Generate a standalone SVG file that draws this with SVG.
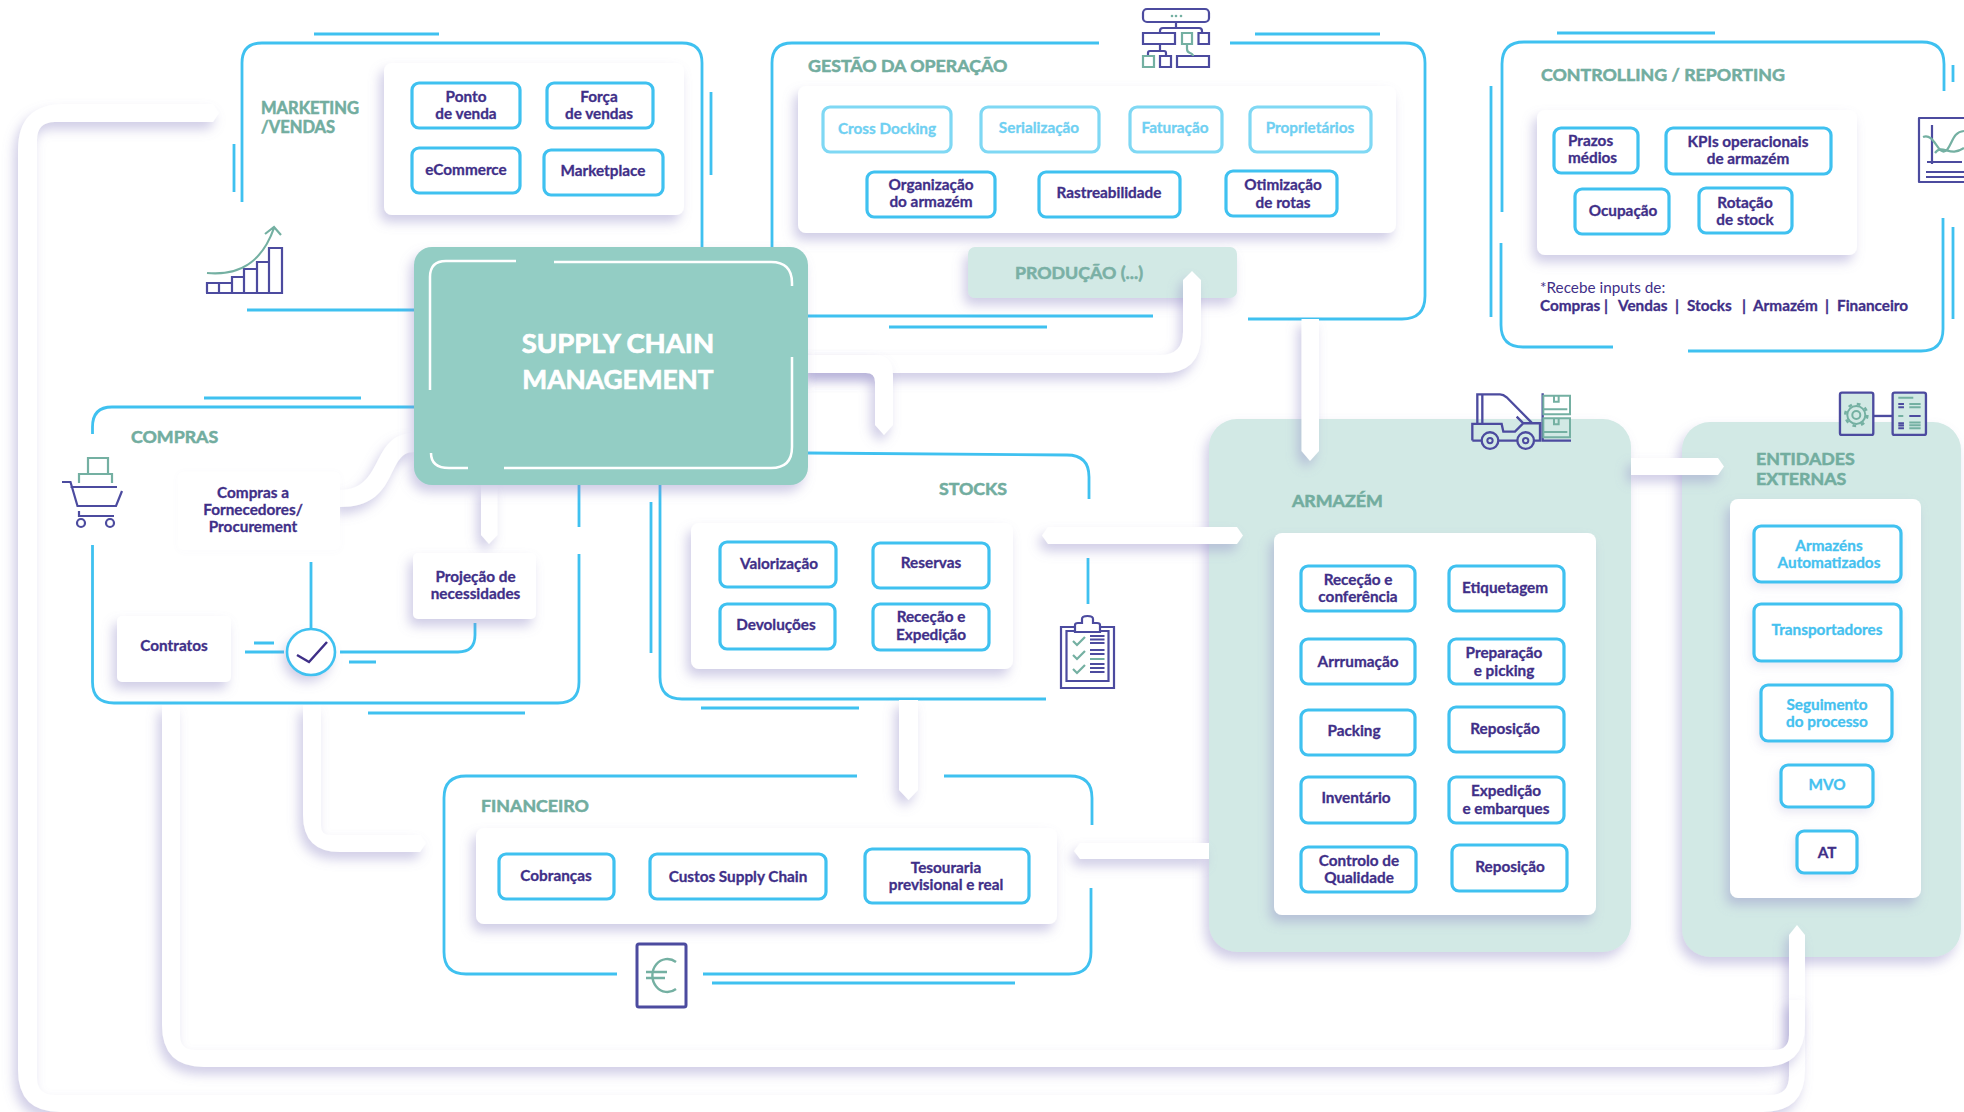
<svg xmlns="http://www.w3.org/2000/svg" width="1964" height="1112" viewBox="0 0 1964 1112">
<defs>
<filter id="sh" filterUnits="userSpaceOnUse" x="0" y="0" width="1964" height="1112"><feDropShadow dx="-4" dy="7" stdDeviation="6" flood-color="#8d88c4" flood-opacity=".42"/></filter>
<filter id="shs" filterUnits="userSpaceOnUse" x="0" y="0" width="1964" height="1112"><feDropShadow dx="-2" dy="4" stdDeviation="5" flood-color="#8d88c4" flood-opacity=".2"/></filter>
<filter id="shf" filterUnits="userSpaceOnUse" x="0" y="0" width="1964" height="1112"><feDropShadow dx="0" dy="1" stdDeviation="3" flood-color="#8d88c4" flood-opacity=".03"/></filter>
</defs>
<style>
text{font-family:"Lato","Liberation Sans",sans-serif;font-weight:700;font-size:15.300px;fill:#3f2f88;stroke:#3f2f88;stroke-width:.3;text-anchor:middle}
.h{font-size:17.800px;fill:#72ad9f;stroke:#72ad9f;stroke-width:.55;text-anchor:start}
.hs{font-size:16.500px}
.l{fill:#6fd0f2;stroke:#6fd0f2}
.b{fill:#45c1ef;stroke:#45c1ef}
.st{text-anchor:start}
.prod{font-size:17.800px;fill:#7ab0a5;stroke:#7ab0a5;stroke-width:.55}
.scm{font-size:27.500px;fill:#fff;stroke:#fff;stroke-width:.7}
.reg{font-weight:400;stroke:none}
.line{fill:none;stroke:#3fc1f0;stroke-width:2.800;stroke-linecap:butt}
.btn{fill:#fff;stroke:#3fc1f0;stroke-width:3.200}
.btnl{fill:#fff;stroke:#7fd8f4;stroke-width:3.200}
.card{fill:#fff;filter:url(#sh)}
.panel{fill:#d2e9e5;filter:url(#sh)}
.conn{fill:#fff;filter:url(#sh)}
.ic{fill:none;stroke:#4c4b9f;stroke-width:2.200}
.ig{fill:none;stroke:#74b0a2;stroke-width:2.200}
</style>
<rect width="1964" height="1112" fill="#fff"/>

<g id="marketing">
<path class="line" d="M242,202V63Q242,43 262,43H682Q702,43 702,63V247M314,34H439M234,144V192M711,92V175M247,310H414"/>
<rect class="card" x="384" y="63" width="300" height="152" rx="8"/>
<text class="h hs" x="261" y="114">MARKETING</text><text class="h hs" x="261" y="133">/VENDAS</text>
<rect class="btn" x="412" y="83" width="108" height="45" rx="7"/><text x="466" y="102">Ponto</text><text x="466" y="119">de venda</text>
<rect class="btn" x="547" y="83" width="106" height="45" rx="7"/><text x="599" y="102">Força</text><text x="599" y="119">de vendas</text>
<rect class="btn" x="412" y="148" width="108" height="45" rx="7"/><text x="466" y="175">eCommerce</text>
<rect class="btn" x="544" y="150" width="119" height="45" rx="7"/><text x="603" y="176">Marketplace</text>
<path class="ic" d="M207,293V283H232V293M219,283V293M232,293V277H244V293M244,293V269H257V293M257,293V262H269V293M269,293V248H282V293H206"/>
<path class="ig" d="M207,273C240,276 262,262 274,228M265,234L274,227L281,235"/>
</g>

<g id="gestao">
<path class="line" d="M1099,43H792Q772,43 772,63V247M1230,43H1405Q1425,43 1425,63V296Q1425,319 1402,319H1248M808,316H1153M1255,34H1380M889,327H1047"/>
<rect class="card" x="798" y="86" width="598" height="147" rx="8"/>
<text class="h" x="808" y="72">GESTÃO DA OPERAÇÃO</text>
<rect class="btnl" x="823" y="107" width="128" height="45" rx="7"/><text class="l" x="887" y="134">Cross Docking</text>
<rect class="btnl" x="981" y="107" width="118" height="45" rx="7"/><text class="l" x="1039" y="133">Serialização</text>
<rect class="btnl" x="1130" y="107" width="92" height="45" rx="7"/><text class="l" x="1175" y="133">Faturação</text>
<rect class="btnl" x="1250" y="107" width="121" height="45" rx="7"/><text class="l" x="1310" y="133">Proprietários</text>
<rect class="btn" x="867" y="172" width="128" height="45" rx="7"/><text x="931" y="190">Organização</text><text x="931" y="207">do armazém</text>
<rect class="btn" x="1039" y="172" width="141" height="45" rx="7"/><text x="1109" y="198">Rastreabilidade</text>
<rect class="btn" x="1226" y="171" width="111" height="45" rx="7"/><text x="1283" y="190">Otimização</text><text x="1283" y="208">de rotas</text>
<rect x="968" y="247" width="269" height="51" rx="7" fill="#d2e9e5" filter="url(#sh)"/>
<text class="prod" x="1079" y="279">PRODUÇÃO (...)</text>
<rect class="ic" x="1143" y="9" width="66" height="13" rx="4"/>
<circle cx="1172" cy="16" r="1.300" fill="#74b0a2"/><circle cx="1176" cy="16" r="1.300" fill="#74b0a2"/><circle cx="1181" cy="16" r="1.300" fill="#74b0a2"/>
<path class="ic" d="M1176,22V28M1160,33V31Q1160,28 1163,28H1199Q1202,28 1202,31V33M1143,33H1175V44H1143ZM1198.500,33H1209V44H1198.500ZM1160,44V51M1148,56V53Q1148,51 1150,51H1164Q1166,51 1166,53V56M1160,56H1171V67H1160ZM1177,56H1209V67H1177Z"/>
<path class="ig" d="M1182,33H1192V44H1182ZM1143,56H1154V67H1143ZM1187,44V49Q1187,52 1190,53Q1193,54 1193,56"/>
</g>

<g id="controlling">
<path class="line" d="M1502,212V64Q1502,42 1524,42H1922Q1944,42 1944,64V91M1501,243V325Q1501,347 1523,347H1613M1688,351H1921Q1943,351 1943,329V218M1557,33H1715M1491,86V317M1953,65V82M1953,227V319"/>
<rect class="card" x="1537" y="110" width="320" height="145" rx="8"/>
<text class="h" x="1541" y="81">CONTROLLING / REPORTING</text>
<rect class="btn" x="1554" y="128" width="84" height="45" rx="7"/><text class="st" x="1568" y="146">Prazos</text><text class="st" x="1568" y="163">médios</text>
<rect class="btn" x="1666" y="128" width="165" height="46" rx="7"/><text x="1748" y="147">KPIs operacionais</text><text x="1748" y="164">de armazém</text>
<rect class="btn" x="1575" y="189" width="94" height="45" rx="7"/><text x="1623" y="216">Ocupação</text>
<rect class="btn" x="1699" y="188" width="93" height="45" rx="7"/><text x="1745" y="208">Rotação</text><text x="1745" y="225">de stock</text>
<text class="st reg" x="1540" y="293">*Recebe inputs de:</text>
<text class="st" x="1540" y="311">Compras |</text><text class="st" x="1618" y="311">Vendas</text><text x="1677" y="311">|</text><text class="st" x="1687" y="311">Stocks</text><text x="1744" y="311">|</text><text class="st" x="1753" y="311">Armazém</text><text x="1827" y="311">|</text><text class="st" x="1837" y="311">Financeiro</text>
<path class="ic" d="M1964,118H1919V182H1964M1932,125V164M1927,162H1962M1926,172H1964M1926,177H1964" stroke-linejoin="round"/>
<path class="ig" d="M1923,137C1935,132 1938,158 1947,150C1953,142 1953,132 1964,131M1935,153C1942,143 1950,158 1964,148"/>
</g>

<g id="stocks">
<path class="line" d="M808,453L1067,455Q1089,455 1089,477V499M1088,558V604M660,485V677Q660,699 682,699H1046M651,502V653M701,708H859"/>
<rect class="card" x="691" y="523" width="322" height="146" rx="8"/>
<text class="h" x="939" y="495">STOCKS</text>
<rect class="btn" x="720" y="542" width="116" height="45" rx="7"/><text x="779" y="569">Valorização</text>
<rect class="btn" x="873" y="543" width="116" height="45" rx="7"/><text x="931" y="568">Reservas</text>
<rect class="btn" x="720" y="604" width="115" height="45" rx="7"/><text x="776" y="630">Devoluções</text>
<rect class="btn" x="873" y="604" width="116" height="46" rx="7"/><text x="931" y="622">Receção e</text><text x="931" y="640">Expedição</text>
<path class="ic" d="M1075,627H1061V688H1114V627H1100M1075,631H1066.500V681H1108.500V631H1100M1075,632V625Q1075,623 1078,623H1082V619Q1082,616 1087.500,616Q1093,616 1093,619V623H1097Q1100,623 1100,625V632ZM1090,636H1104.500M1090,639.500H1104.500M1090,643H1104.500M1090,650H1104.500M1090,654H1104.500M1090,664H1104.500M1090,668H1104.500M1090,672H1104.500"/>
<path class="ig" d="M1073,641L1077,645L1085,637M1073,655L1077,659L1085,651M1073,669L1077,673L1085,665M1090,659H1104.500"/>
</g>

<g id="financeiro">
<path class="line" d="M857,776H466Q444,776 444,798V952Q444,974 466,974H617M944,776H1070Q1092,776 1092,798V825M1091,888V952Q1091,974 1069,974H703M712,983H1015"/>
<rect class="card" x="476" y="828" width="581" height="96" rx="8"/>
<text class="h" x="481" y="812">FINANCEIRO</text>
<rect class="btn" x="499" y="854" width="115" height="45" rx="7"/><text x="556" y="881">Cobranças</text>
<rect class="btn" x="650" y="854" width="176" height="45" rx="7"/><text x="738" y="882">Custos Supply Chain</text>
<rect class="btn" x="865" y="849" width="164" height="54" rx="7"/><text x="946" y="873">Tesouraria</text><text x="946" y="890">previsional e real</text>
<rect x="637" y="944" width="49" height="63" rx="2" fill="#fff" stroke="#4c4b9f" stroke-width="3"/>
<path d="M676,962A15,16.500 0 1 0 676,989M646,972H667M646,978H665" fill="none" stroke="#74b0a2" stroke-width="2.400"/>
</g>

<g id="armazem">
<rect class="panel" x="1209" y="419" width="422" height="533" rx="28"/>
<rect class="card" x="1274" y="533" width="322" height="382" rx="8"/>
<text class="h" x="1292" y="507">ARMAZÉM</text>
<rect class="btn" x="1301" y="566" width="114" height="45" rx="7"/><text x="1358" y="585">Receção e</text><text x="1358" y="602">conferência</text>
<rect class="btn" x="1449" y="566" width="115" height="45" rx="7"/><text x="1505" y="593">Etiquetagem</text>
<rect class="btn" x="1301" y="639" width="114" height="45" rx="7"/><text x="1358" y="667">Arrrumação</text>
<rect class="btn" x="1449" y="639" width="115" height="45" rx="7"/><text x="1504" y="658">Preparação</text><text x="1504" y="676">e picking</text>
<rect class="btn" x="1301" y="710" width="114" height="45" rx="7"/><text x="1354" y="736">Packing</text>
<rect class="btn" x="1449" y="707" width="115" height="45" rx="7"/><text x="1505" y="734">Reposição</text>
<rect class="btn" x="1301" y="777" width="114" height="46" rx="7"/><text x="1356" y="803">Inventário</text>
<rect class="btn" x="1449" y="777" width="115" height="46" rx="7"/><text x="1506" y="796">Expedição</text><text x="1506" y="814">e embarques</text>
<rect class="btn" x="1301" y="847" width="115" height="45" rx="7"/><text x="1359" y="866">Controlo de</text><text x="1359" y="883">Qualidade</text>
<rect class="btn" x="1452" y="845" width="115" height="46" rx="7"/><text x="1510" y="872">Reposição</text>
<g transform="translate(1460 0) scale(.3333)">
<path d="M52,1272V1183H120Q130,1183 140,1192L215,1268M67,1183V1270M37,1322V1272H125L130,1295H165L190,1270H240V1322H225M65,1322H37M115,1322H172M170,1250L188,1268M248,1180V1322H333" fill="none" stroke="#4c4b9f" stroke-width="7"/>
<circle cx="90" cy="1322" r="25" fill="#d2e9e5" stroke="#4c4b9f" stroke-width="7"/><circle cx="90" cy="1322" r="8" fill="none" stroke="#4c4b9f" stroke-width="6"/>
<circle cx="197" cy="1322" r="25" fill="#d2e9e5" stroke="#4c4b9f" stroke-width="7"/><circle cx="197" cy="1322" r="8" fill="none" stroke="#4c4b9f" stroke-width="6"/>
<path d="M250,1187H330V1243H250ZM250,1255H330V1312H250ZM250,1228H322M250,1296H322M282,1190V1205H296V1190M282,1258V1273H296V1258" fill="none" stroke="#74b0a2" stroke-width="6"/>
</g>
</g>

<g id="entidades">
<rect class="panel" x="1682" y="422" width="279" height="535" rx="28"/>
<rect class="card" x="1730" y="499" width="191" height="399" rx="8"/>
<text class="h" x="1756" y="465">ENTIDADES</text><text class="h" x="1756" y="485">EXTERNAS</text>
<g filter="url(#shs)">
<rect class="btn" x="1754" y="526" width="147" height="56" rx="7"/>
<rect class="btn" x="1754" y="604" width="147" height="57" rx="7"/>
<rect class="btn" x="1761" y="685" width="131" height="56" rx="7"/>
<rect class="btn" x="1781" y="765" width="92" height="42" rx="7"/>
<rect class="btn" x="1797" y="831" width="60" height="42" rx="7"/>
</g>
<text class="b" x="1829" y="551">Armazéns</text><text class="b" x="1829" y="568">Automatizados</text>
<text class="b" x="1827" y="635">Transportadores</text>
<text class="b" x="1827" y="710">Seguimento</text><text class="b" x="1827" y="727">do processo</text>
<text class="b" x="1827" y="790">MVO</text>
<text x="1827" y="858">AT</text>
<g transform="translate(1460 0) scale(.3333)">
<rect x="1140" y="1178" width="100" height="127" rx="6" fill="#d2e9e5" stroke="#4c4b9f" stroke-width="7"/>
<rect x="1298" y="1178" width="100" height="127" rx="6" fill="#d2e9e5" stroke="#4c4b9f" stroke-width="7"/>
<path d="M1240,1248H1298" fill="none" stroke="#4c4b9f" stroke-width="7"/>
<circle cx="1189" cy="1245" r="12" fill="none" stroke="#74b0a2" stroke-width="6"/>
<circle cx="1189" cy="1245" r="27" fill="none" stroke="#74b0a2" stroke-width="6"/>
<circle cx="1189" cy="1245" r="33" fill="none" stroke="#74b0a2" stroke-width="8" stroke-dasharray="11 15"/>
<path d="M1315,1193H1360M1348,1212H1382M1348,1222H1382M1315,1248H1330M1348,1268H1382M1348,1276H1382M1348,1285H1382" fill="none" stroke="#74b0a2" stroke-width="6"/>
<path d="M1315,1212H1332M1315,1222H1332M1348,1248H1382M1315,1270H1332M1315,1277H1332M1315,1285H1332" fill="none" stroke="#4c4b9f" stroke-width="6"/>
</g>
</g>

<g id="connectors">
<path class="conn" d="M219,113L213,122H55Q37,122 37,140V1078Q37,1095 55,1095H1770Q1789,1095 1789,1076V935L1797,925L1805,935V1070Q1805,1112 1763,1112H60Q18,1112 18,1070V150Q18,104 64,104H213Z"/>
<path class="conn" d="M162,705V1025Q162,1067 204,1067H1763Q1805,1067 1805,1025V1000H1789V1035Q1789,1050 1774,1050H195Q180,1050 180,1035V705Z"/>
<path class="conn" d="M303,705V815Q303,852 340,852H420L426,843L420,835H330Q321,835 321,826V705Z"/>
<path class="conn" d="M340,490C385,490 370,433 414,433V452C385,452 400,507 340,507Z"/>
<path class="conn" d="M481,485V535L489,544L497.500,535V485Z"/>
<path class="conn" d="M808,355H1160Q1183,355 1183,332V280L1192,271L1201,280V335Q1201,373 1163,373H808Z"/>
<path class="conn" d="M808,355H875Q893,355 893,375V425L884,435L875,425V382Q875,373 866,373H808Z"/>
<path class="conn" d="M1301.500,319V451L1310,461L1319,451V319Z"/>
<path class="conn" d="M1042,535.500L1048,527H1237L1243,535.500L1237,544H1048Z"/>
<path class="conn" d="M899,700V790L908.500,800L918,790V700Z"/>
<path class="conn" d="M1209,843H1080L1074,851L1080,859H1209Z"/>
<path class="conn" d="M1631,458H1718L1724,466.500L1718,475H1631Z"/>
</g>

<g id="compras">
<path class="line" d="M92.500,434V427Q92.500,407 112,407H414M92.500,545V682Q92.500,703 114,703H558Q579,703 579,682V554M579,527V485M204,398H361M368,713H525M311,562V629M340,652H458Q475,652 475,635V623M245,652H284M254,643H274M349,662H376"/>
<rect x="178" y="472" width="162" height="78" rx="6" fill="#fff" filter="url(#shf)"/>
<rect class="card" x="413" y="553" width="123" height="66" rx="5"/>
<rect class="card" x="117" y="616" width="114" height="66" rx="5"/>
<text class="h" x="131" y="443">COMPRAS</text>
<text x="253" y="498">Compras a</text><text x="253" y="515">Fornecedores/</text><text x="253" y="532">Procurement</text>
<text x="475.500" y="582">Projeção de</text><text x="475.500" y="599">necessidades</text>
<text x="174" y="651">Contratos</text>
<ellipse cx="311" cy="652" rx="24" ry="23" class="card"/>
<ellipse cx="311" cy="652" rx="24" ry="23" fill="none" stroke="#3fc1f0" stroke-width="2.600"/>
<path d="M297,655L309,662L327,642" fill="none" stroke="#3f2f88" stroke-width="2.500"/>
<path class="ig" d="M88,473V458H108V473M79,483V474H112V483"/>
<path class="ic" d="M62,482H70.500L77.500,506H116L122,491M70.500,487H117M79,511V516H114"/>
<circle class="ic" cx="81" cy="523" r="4"/><circle class="ic" cx="110" cy="523" r="4"/>
</g>

<g id="scm">
<rect x="414" y="247" width="394" height="238" rx="18" fill="#93cdc4" filter="url(#sh)"/>
<path d="M430,390V277Q430,261 446,261H516M554,262H771Q792,262 792,283V286M792,357V447Q792,468 771,468H504M468,468H449Q431,468 431,453" fill="none" stroke="#fff" stroke-width="2.500"/>
<text class="scm" x="618" y="353">SUPPLY CHAIN</text>
<text class="scm" x="618" y="389" style="font-size:26.300px">MANAGEMENT</text>
</g>
</svg>
